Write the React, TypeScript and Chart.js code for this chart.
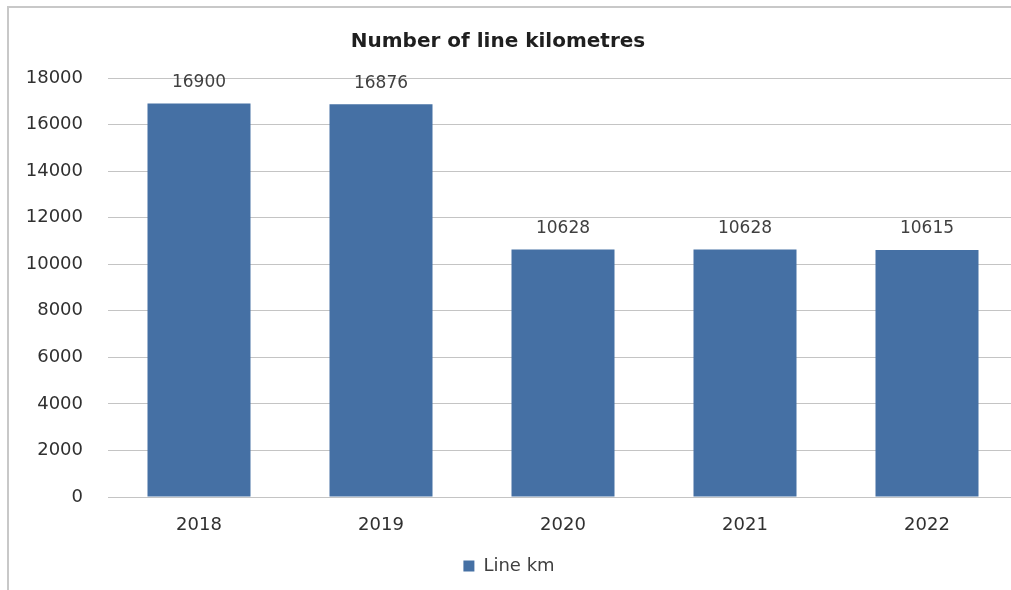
import React, { useEffect, useRef } from "react";
import { Chart, registerables, Plugin } from "chart.js";

Chart.register(...registerables);

const years = ["2018", "2019", "2020", "2021", "2022"];
const lineKm = [16900, 16876, 10628, 10628, 10615];
const seriesName = "Line km";
const chartTitle = "Number of line kilometres";

const FONT = "'DejaVu Sans', sans-serif";
const BAR_COLOR = "#4570a4";
const TEXT_COLOR = "#404040";
const GRID_COLOR = "#c4c4c4";

// Value labels above each bar
const valueLabels: Plugin<"bar"> = {
  id: "valueLabels",
  afterDatasetsDraw(chart) {
    const { ctx } = chart;
    const meta = chart.getDatasetMeta(0);
    const data = chart.data.datasets[0].data as number[];
    ctx.save();
    ctx.font = `17px ${FONT}`;
    ctx.fillStyle = TEXT_COLOR;
    ctx.textAlign = "center";
    ctx.textBaseline = "middle";
    meta.data.forEach((bar, i) => {
      ctx.fillText(String(data[i]), bar.x, bar.y - 21);
    });
    ctx.restore();
  },
};

// Chart heading, centred over the frame rather than the canvas
const heading: Plugin<"bar"> = {
  id: "heading",
  afterDraw(chart) {
    const { ctx } = chart;
    ctx.save();
    ctx.font = `bold 20px ${FONT}`;
    ctx.fillStyle = "#1f1f1f";
    ctx.textAlign = "center";
    ctx.textBaseline = "middle";
    ctx.fillText(chartTitle, 498, 42);
    ctx.restore();
  },
};

export default function App() {
  const canvasRef = useRef<HTMLCanvasElement>(null);

  useEffect(() => {
    if (!canvasRef.current) return;
    const chart = new Chart(canvasRef.current, {
      type: "bar",
      data: {
        labels: years,
        datasets: [
          {
            label: seriesName,
            data: lineKm,
            backgroundColor: BAR_COLOR,
            borderWidth: 0,
            categoryPercentage: 1,
            barPercentage: 0.566,
          },
        ],
      },
      options: {
        responsive: false,
        animation: false,
        layout: { padding: { top: 78, left: 0, right: 0, bottom: 5 } },
        plugins: {
          title: { display: false },
          tooltip: { enabled: false },
          legend: {
            position: "bottom",
            labels: {
              boxWidth: 11,
              boxHeight: 11,
              padding: 10,
              color: TEXT_COLOR,
              font: { family: FONT, size: 18 },
            },
          },
        },
        scales: {
          x: {
            grid: { display: false, drawTicks: false },
            border: { display: false },
            ticks: {
              color: "#303030",
              padding: 18,
              font: { family: FONT, size: 18 },
            },
            afterFit(scale) {
              scale.height = 50;
            },
          },
          y: {
            min: 0,
            max: 18000,
            grid: { color: GRID_COLOR, lineWidth: 1, drawTicks: false },
            border: { display: false },
            ticks: {
              stepSize: 2000,
              color: "#303030",
              padding: 25,
              font: { family: FONT, size: 18 },
              callback: (value) => String(value),
            },
            afterFit(scale) {
              scale.width = 108;
            },
          },
        },
      },
      plugins: [valueLabels, heading],
    });
    return () => chart.destroy();
  }, []);

  return (
    <div
      style={{
        position: "absolute",
        left: 0,
        top: 0,
        width: 1011,
        height: 590,
        overflow: "hidden",
        background: "#ffffff",
      }}
    >
      <canvas
        ref={canvasRef}
        width={1018}
        height={590}
        style={{ position: "absolute", left: 0, top: 0, width: 1018, height: 590 }}
      />
      <div
        style={{
          position: "absolute",
          left: 7,
          top: 6,
          right: 0,
          bottom: 0,
          borderTop: "2px solid #c8c8c8",
          borderLeft: "2px solid #c8c8c8",
          pointerEvents: "none",
        }}
      />
    </div>
  );
}
